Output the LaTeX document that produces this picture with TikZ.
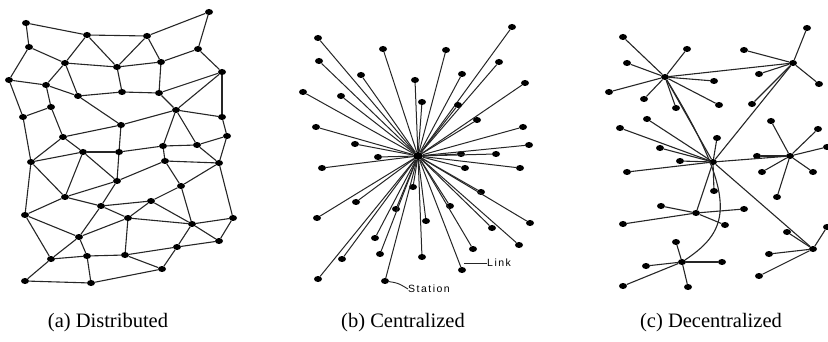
\documentclass[tikz,border=0pt]{standalone}
\usepackage{fontspec}
\setmainfont{Liberation Serif}
\newfontfamily\lblfont[LetterSpace=14]{Liberation Sans}
\usetikzlibrary{shapes.geometric}
\begin{document}
\begin{tikzpicture}[x=1pt,y=-1pt,
  dot/.style={ellipse,fill=black,draw=none,inner sep=0pt,minimum width=8pt,minimum height=6pt},
  lnk/.style={draw=black!85,line width=1.1pt},
  captxt/.style={font=\fontsize{20.5}{24}\selectfont,inner sep=0pt},
  smalltxt/.style={font=\lblfont\fontsize{10.5}{12}\selectfont,inner sep=0pt,anchor=west}]
\useasboundingbox (0,0) rectangle (828,342);
% ---------------- (a) distributed ----------------
\foreach \n/\x/\y in {A/26/23,B/87/35,C/147/36,D/209/12,E/29/47,F/198/49,G/65/63,H/117/67,
  I/161/62,J/222/72,K/9/80,L/46/85,M/78/96,N/122/92,O/159/93,Q/51/107,P/176/110,R/23/117,
  T/222/117,S/121/125,U/63/137,V/227/136,W/163/146,X/197/145,a/83/152,b/119/152,Z/31/162,
  c/165/161,d/219/163,e/117/181,f/181/186,g/65/197,h/151/201,i/101/206,j/25/215,k/128/218,
  l/192/224,m/233/218,n/79/237,o/219/241,p/177/247,q/51/259,r/87/256,s/125/255,t/162/269,
  u/25/281,v/91/283}
  \node[dot] (a\n) at (\x,\y) {};
\foreach \p/\q in {A/B,B/C,C/D,A/E,D/F,E/G,B/G,B/H,C/H,C/I,G/H,H/I,I/F,F/J,E/K,G/L,G/M,K/L,
  L/M,H/N,M/N,N/O,I/O,O/J,J/P,L/Q,K/R,Q/R,M/S,O/P,P/T,J/T,S/P,Q/U,U/S,T/V,P/W,P/X,V/X,S/b,
  R/Z,U/a,U/Z,V/d,a/b,b/W,W/X,W/c,X/d,c/d,Z/a,a/e,b/e,e/c,a/g,Z/g,Z/j,g/e,e/i,g/i,i/h,c/f,
  f/d,f/h,g/j,i/k,h/k,h/l,f/l,d/m,k/l,l/m,l/o,m/o,j/n,i/n,n/k,j/q,n/q,n/r,q/r,r/s,k/s,s/t,
  s/p,p/o,l/p,p/t,q/u,u/v,r/v,v/t}
  \draw[lnk] (a\p) -- (a\q);
% ---------------- (b) centralized ----------------
\node[dot,minimum width=10pt,minimum height=8pt] (bc) at (418,156) {};
\foreach \x/\y [count=\i] in {318/38,383/49,446/50,512/27,319/61,361/75,462/74,499/62,415/80,
  303/92,341/96,422/102,458/105,525/83,477/120,316/127,523/127,355/144,461/154,496/154,
  529/145,378/157,322/168,465/168,520/168,413/187,481/192,356/202,450/206,396/209,317/218,
  426/221,530/223,492/228,375/238,473/249,519/245,342/259,380/254,422/257,462/270,318/279,
  385/281}
  {\node[dot] (b\i) at (\x,\y) {};
   \draw[lnk,line width=1pt] (bc) -- (b\i);}
\coordinate (lkend) at (464,263);
\node[smalltxt] (linklbl) at (487,263) {Link};
\draw[lnk,line width=0.9pt] (lkend) -- (linklbl.west);
\node[smalltxt] (stlbl) at (408,289) {Station};
\draw[lnk,line width=0.9pt] (b43) .. controls (398,283) .. (stlbl.west);
% ---------------- (c) decentralized ----------------
\node[dot] (c1) at (665,77) {};
\node[dot] (c2) at (793,63) {};
\node[dot] (c3) at (713,162) {};
\node[dot] (c4) at (790,156) {};
\node[dot] (c5) at (696,213) {};
\node[dot] (c6) at (813,249) {};
\node[dot] (c7) at (682,262) {};
\foreach \h/\pts in {1/{623/37,687/49,627/63,714/81,609/92,644/99,676/108,719/105},
  2/{807/28,744/50,759/74,819/84,752/104},
  3/{620/128,647/119,660/148,680/161,717/138,627/172,714/191},
  4/{771/121,818/129,827/147,757/156,762/172,813/172,777/197},
  5/{661/206,744/209,623/224,725/225},
  6/{787/232,827/227,769/254,759/276},
  7/{676/242,646/266,722/262,623/286,688/287}}
  {\foreach \x/\y [count=\i] in \pts
    {\node[dot] (c\h l\i) at (\x,\y) {};
     \draw[lnk] (c\h) -- (c\h l\i);}}
\foreach \p/\q in {1/2,1/3,2/3,3/4,3/5,3/6}
  \draw[lnk] (c\p) -- (c\q);
\draw[lnk] (c1) .. controls (740,200) and (730,230) .. (c7);
% ---------------- captions ----------------
\node[captxt] (capa) at (108,323) {(a) Distributed};
\node[captxt] (capb) at (403,323) {(b) Centralized};
\node[captxt] (capc) at (711,323) {(c) Decentralized};
\end{tikzpicture}
\end{document}
